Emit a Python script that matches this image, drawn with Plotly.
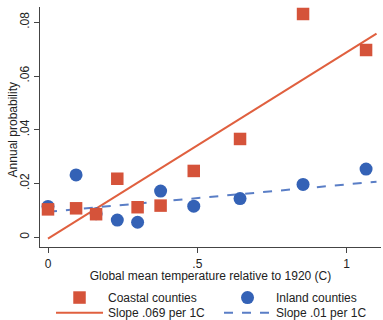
import plotly.graph_objects as go

temp = [0.0, 0.094, 0.161, 0.232, 0.300, 0.377, 0.488, 0.643, 0.854, 1.065]
coastal = [0.0104, 0.0108, 0.0086, 0.0218, 0.0112, 0.0118, 0.0247, 0.0366, 0.0831, 0.0697]
inland = [0.0115, 0.0232, 0.0088, 0.0064, 0.0056, 0.0172, 0.0116, 0.0144, 0.0197, 0.0254]

fit_x = [0.0, 1.1]
coastal_fit = [-0.0005, 0.0758]
inland_fit = [0.0095, 0.0207]

x_ticks = [0, 0.5, 1]
x_labels = ["0", ".5", "1"]
y_ticks = [0, 0.02, 0.04, 0.06, 0.08]
y_labels = ["0", ".02", ".04", ".06", ".08"]

RED = "#d5533a"
BLUE = "#3462b6"
RED_LINE = "#e0603f"
BLUE_LINE = "#5a7ec6"

fig = go.Figure()
fig.add_trace(go.Scatter(x=fit_x, y=coastal_fit, mode="lines", name="Slope .069 per 1C",
                         line=dict(color=RED_LINE, width=2), legend="legend2", legendrank=1))
fig.add_trace(go.Scatter(x=fit_x, y=inland_fit, mode="lines", name="Slope .01 per 1C",
                         line=dict(color=BLUE_LINE, width=2, dash="dash"), legend="legend2",
                         legendrank=2))
fig.add_trace(go.Scatter(x=temp, y=inland, mode="markers", name="Inland counties",
                         marker=dict(symbol="circle", size=13, color=BLUE), legendrank=2))
fig.add_trace(go.Scatter(x=temp, y=coastal, mode="markers", name="Coastal counties",
                         marker=dict(symbol="square", size=12.5, color=RED), legendrank=1))

leg_common = dict(orientation="h", x=0.0323, xref="paper", xanchor="left",
                  yref="container", yanchor="top", entrywidth=106,
                  traceorder="normal", font=dict(size=12), itemwidth=47,
                  tracegroupgap=0, bgcolor="rgba(0,0,0,0)")

fig.update_layout(
    width=383, height=320,
    margin=dict(l=40, r=2, t=7, b=73, autoexpand=False),
    paper_bgcolor="white", plot_bgcolor="white",
    font=dict(family="Liberation Sans, Arial, sans-serif", size=12, color="#222"),
    showlegend=True,
    legend=dict(y=0.1155, **leg_common),
    legend2=dict(y=0.068, **leg_common),
    xaxis=dict(range=[-0.0268, 1.115], tickvals=x_ticks, ticktext=x_labels,
               showline=True, linecolor="#444", linewidth=1.3, ticks="outside",
               ticklen=5, tickcolor="#444", showgrid=False, zeroline=False,
               title=dict(text="Global mean temperature relative to 1920 (C)",
                          standoff=1, font=dict(size=12))),
    yaxis=dict(range=[-0.0036, 0.0857], tickvals=y_ticks, ticktext=y_labels,
               tickangle=-90, ticklabelstandoff=0,
               showline=True, linecolor="#444", linewidth=1.3, ticks="outside",
               ticklen=5, tickcolor="#444", showgrid=False, zeroline=False),
    annotations=[dict(text="Annual probability", textangle=-90, xref="paper", yref="paper",
                      x=-0.0792, y=0.49, xanchor="center", yanchor="middle",
                      showarrow=False, font=dict(size=12))],
)

fig.write_html("out.html")
